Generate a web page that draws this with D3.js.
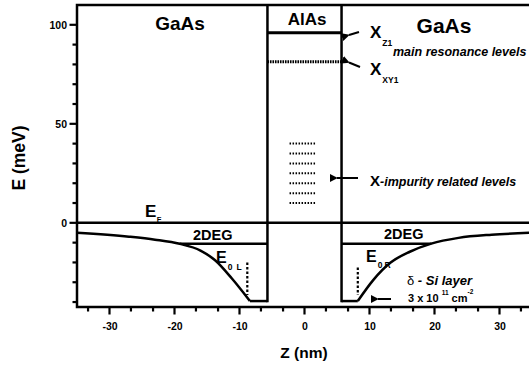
<!DOCTYPE html>
<html>
<head>
<meta charset="utf-8">
<script src="https://cdn.jsdelivr.net/npm/d3@7"></script>
<style>
body { margin: 0; background: #fff; }
svg { display: block; }
text { font-family: "Liberation Sans", Arial, sans-serif; font-weight: bold; fill: #000; }
</style>
</head>
<body>
<div id="chart"></div>
<script>

// conduction band edge, Z in nm, E in meV
var leftZ  = [-35, -27, -23, -19.2, -16, -13.8, -11.2, -8.4];
var leftE  = [-5, -7, -8.5, -10.6, -14, -18.8, -28, -39.5];
var rightZ = [8.2, 10.6, 13.2, 16.2, 19.5, 23.7, 28.8, 35];
var rightE = [-39.5, -28.8, -20.2, -14.6, -10.5, -7.6, -6, -5];
var wellBottomE = -39.5;
var barrierZ = [-5.7, 5.7];
var fermiE = 0;

// 2DEG ground levels E0L / E0R
var twoDegE = -10.5;
var twoDegLeftZ = [-19.2, -5.7];
var twoDegRightZ = [5.7, 19.5];

// X levels in the AlAs barrier: Z1 (solid), XY1 (dotted)
var xLevelNames = ["Z1", "XY1"];
var xLevelE = [96, 81.3];

// impurity related levels
var impurityE = [40, 35, 30, 25, 20, 15, 10];
var impurityZ = [-2.3, 1.8];

// delta Si layers
var deltaZ = [-8.8, 8.2];
var deltaTopE = [-20, -22.5];
var deltaBottomE = [-36.5, -36.5];

// ticks
var zMajor = [-30, -20, -10, 0, 10, 20, 30];
var zMinor = [-33.3, -26.7, -23.3, -16.7, -13.3, -6.7, -3.3, 3.3, 6.7, 13.3, 16.7, 23.3, 26.7, 33.3];
var eMajor = [0, 50, 100];
var eMinor = [-40, -30, -20, -10, 10, 20, 30, 40, 60, 70, 80, 90];

var W = 529, H = 368;
var svg = d3.select("#chart").append("svg")
    .attr("width", W)
    .attr("height", H);

var x = d3.scaleLinear().domain([-35, 35]).range([77, 532]);
var y = d3.scaleLinear().domain([-42.5, 110]).range([307, 5]);

var LW = 2.5;

// arrow head
svg.append("defs").append("marker")
    .attr("id", "head")
    .attr("viewBox", "0 0 10 10")
    .attr("refX", 1).attr("refY", 5)
    .attr("markerWidth", 4).attr("markerHeight", 4)
    .attr("markerUnits", "strokeWidth")
    .attr("orient", "auto-start-reverse")
    .append("path")
    .attr("d", "M0,5 L10,0 L10,10 Z")
    .attr("fill", "#000");

// frame
svg.append("rect")
    .attr("x", x(-35)).attr("y", y(110))
    .attr("width", x(35) - x(-35))
    .attr("height", y(-42.5) - y(110))
    .attr("fill", "none")
    .attr("stroke", "#000")
    .attr("stroke-width", LW);

// axes: labels from d3, tick marks drawn separately
function styleAxis(g) {
    g.select(".domain").remove();
    g.selectAll(".tick line").remove();
    g.selectAll(".tick text")
        .style("font-family", "'Liberation Sans', Arial, sans-serif")
        .style("font-weight", "bold")
        .style("font-size", "10.5px")
        .attr("fill", "#000");
}

svg.append("g")
    .attr("transform", "translate(0," + y(-42.5) + ")")
    .call(d3.axisBottom(x).tickValues(zMajor).tickSize(7).tickFormat(function(d) { return String(d); }))
    .call(styleAxis)
    .selectAll(".tick text").attr("y", 15.5);

svg.append("g")
    .attr("transform", "translate(" + x(-35) + ",0)")
    .call(d3.axisLeft(y).tickValues(eMajor).tickSize(7).tickFormat(function(d) { return String(d); }))
    .call(styleAxis)
    .selectAll(".tick text").attr("x", -10);

function zTicks(vals, len) {
    svg.append("g").selectAll("line").data(vals).enter().append("line")
        .attr("x1", function(d) { return x(d); })
        .attr("x2", function(d) { return x(d); })
        .attr("y1", y(-42.5))
        .attr("y2", y(-42.5) + len)
        .attr("stroke", "#000").attr("stroke-width", 2.2);
}
function eTicks(vals, len) {
    svg.append("g").selectAll("line").data(vals).enter().append("line")
        .attr("x1", x(-35))
        .attr("x2", x(-35) - len)
        .attr("y1", function(d) { return y(d); })
        .attr("y2", function(d) { return y(d); })
        .attr("stroke", "#000").attr("stroke-width", 2.2);
}
zTicks(zMajor, 7.5);
zTicks(zMinor, 4.5);
eTicks(eMajor, 7.5);
eTicks(eMinor, 4.5);

function hline(e, z0, z1, w) {
    return svg.append("line")
        .attr("x1", x(z0)).attr("x2", x(z1))
        .attr("y1", y(e)).attr("y2", y(e))
        .attr("stroke", "#000").attr("stroke-width", w || LW);
}
function vline(z, e0, e1, w) {
    return svg.append("line")
        .attr("x1", x(z)).attr("x2", x(z))
        .attr("y1", y(e0)).attr("y2", y(e1))
        .attr("stroke", "#000").attr("stroke-width", w || LW);
}

// Fermi level
hline(fermiE, -35, 35);

// band edge curves
var band = d3.line()
    .x(function(d) { return x(d[0]); })
    .y(function(d) { return y(d[1]); })
    .curve(d3.curveMonotoneX);

svg.append("path").datum(d3.zip(leftZ, leftE))
    .attr("d", band).attr("fill", "none")
    .attr("stroke", "#000").attr("stroke-width", LW);
svg.append("path").datum(d3.zip(rightZ, rightE))
    .attr("d", band).attr("fill", "none")
    .attr("stroke", "#000").attr("stroke-width", LW);

// well bottoms and barrier walls
hline(wellBottomE, leftZ[leftZ.length - 1], barrierZ[0]);
hline(wellBottomE, barrierZ[1], rightZ[0]);
vline(barrierZ[0], 110, wellBottomE - 0.6);
vline(barrierZ[1], 110, wellBottomE - 0.6);

// 2DEG levels
hline(twoDegE, twoDegLeftZ[0], twoDegLeftZ[1]);
hline(twoDegE, twoDegRightZ[0], twoDegRightZ[1]);

// X levels
hline(xLevelE[0], barrierZ[0], barrierZ[1], 3);
hline(xLevelE[1], barrierZ[0], barrierZ[1], 3).attr("stroke-dasharray", "1.6,0.9");

// impurity levels
svg.selectAll(".imp").data(impurityE).enter().append("line")
    .attr("class", "imp")
    .attr("x1", x(impurityZ[0])).attr("x2", x(impurityZ[1]))
    .attr("y1", function(d) { return y(d); })
    .attr("y2", function(d) { return y(d); })
    .attr("stroke", "#000").attr("stroke-width", 2)
    .attr("stroke-dasharray", "1.5,1.5");

// delta layers
deltaZ.forEach(function(z, i) {
    vline(z, deltaTopE[i], deltaBottomE[i], 2.2).attr("stroke-dasharray", "2.5,2");
});

// arrows
function arrow(x1, y1, x2, y2) {
    svg.append("line")
        .attr("x1", x1).attr("y1", y1).attr("x2", x2).attr("y2", y2)
        .attr("stroke", "#000").attr("stroke-width", 2)
        .attr("marker-end", "url(#head)");
}
arrow(359, 32, 349, 35);
arrow(360, 67, 349, 62.5);
arrow(358, 178, 337, 178);
arrow(391, 299, 378, 299);

// labels
function label(px, py, parts, anchor) {
    var t = svg.append("text")
        .attr("x", px).attr("y", py)
        .attr("text-anchor", anchor || "start");
    parts.forEach(function(p) {
        var s = t.append("tspan").text(p.t).style("font-size", p.size + "px");
        if (p.dy) s.attr("dy", p.dy);
        if (p.dx) s.attr("dx", p.dx);
        if (p.italic) s.style("font-style", "italic");
        if (p.normal) s.style("font-weight", "normal");
    });
    return t;
}

label(180, 30, [{t: "GaAs", size: 19}], "middle");
label(307, 25, [{t: "AlAs", size: 17}], "middle");
label(444, 33, [{t: "GaAs", size: 21}], "middle");

label(370, 38, [{t: "X", size: 17}, {t: xLevelNames[0], size: 8.5, dy: 8, dx: 1}]);
label(393, 56, [{t: "main resonance levels", size: 12.5, italic: true}]);
label(370, 75, [{t: "X", size: 17}, {t: xLevelNames[1], size: 8.5, dy: 8, dx: 1}]);

label(370, 186, [{t: "X", size: 15}, {t: "-impurity related levels", size: 12.5, italic: true}]);

label(145, 217, [{t: "E", size: 17}, {t: "F", size: 7.5, dy: 5, dx: 0.5}]);
label(193, 240, [{t: "2DEG", size: 14.5}]);
label(384, 239, [{t: "2DEG", size: 14.5}]);

label(216, 263, [{t: "E", size: 16}, {t: "0", size: 8.5, dy: 7, dx: 1}, {t: "L", size: 8.5, dx: 4}]);
label(366, 262, [{t: "E", size: 16}, {t: "0", size: 8.5, dy: 6, dx: 1}, {t: "R", size: 8.5, dx: 2}]);

label(407, 285, [{t: "\u03b4", size: 13, normal: true}, {t: " - Si layer", size: 13, italic: true}]);
label(408, 302, [{t: "3 x 10 ", size: 11}, {t: "11", size: 6.5, dy: -7}, {t: " cm", size: 11, dy: 7}, {t: "-2", size: 6.5, dy: -8}]);

// axis titles
label(0, 0, [{t: "E (meV)", size: 17.5}], "middle")
    .attr("transform", "translate(25,158) rotate(-90)");
label(304, 358, [{t: "Z (nm)", size: 15.5}], "middle");

</script>
</body>
</html>
